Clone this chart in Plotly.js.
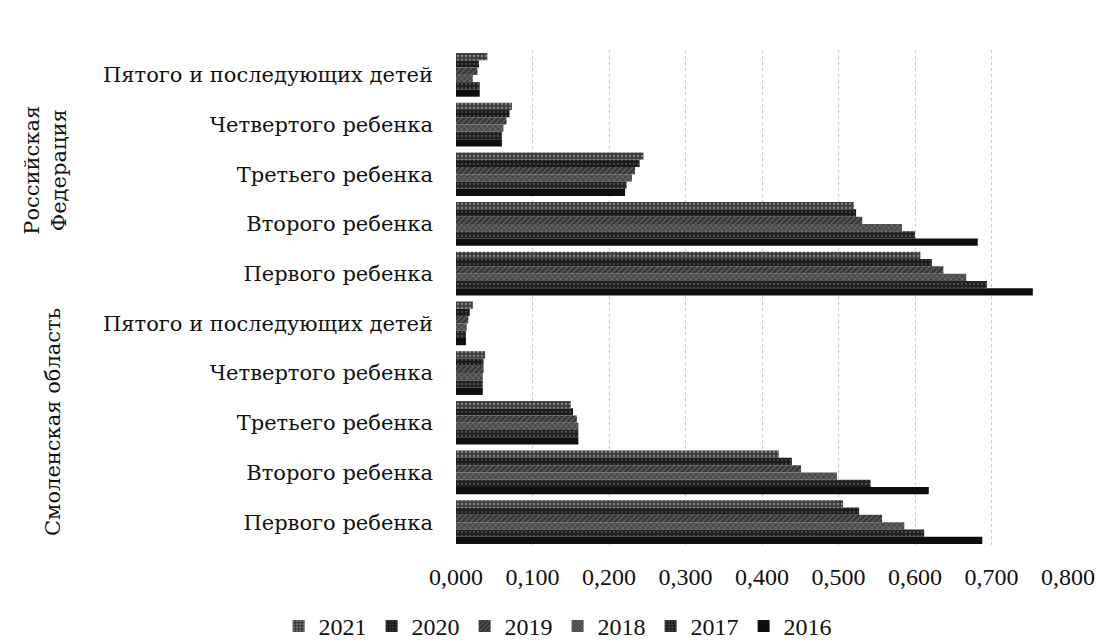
<!DOCTYPE html>
<html>
<head>
<meta charset="utf-8">
<script src="https://cdn.plot.ly/plotly-3.0.1.min.js"></script>
<style>html,body{margin:0;padding:0;background:#fff;}#chart{width:1113px;height:643px;}</style>
</head>
<body>
<div id="chart"></div>
<script>
// Categories, top to bottom
const regions = ["Российская Федерация", "Смоленская область"];
const childLabels = ["Пятого и последующих детей", "Четвертого ребенка", "Третьего ребенка", "Второго ребенка", "Первого ребенка"];
const years = ["2021", "2020", "2019", "2018", "2017", "2016"];

// Values per year, ordered: RF (5th, 4th, 3rd, 2nd, 1st), then Smolensk (5th, 4th, 3rd, 2nd, 1st)
const v2021 = [0.041, 0.073, 0.245, 0.520, 0.607,   0.022, 0.038, 0.150, 0.422, 0.506];
const v2020 = [0.030, 0.070, 0.240, 0.523, 0.622,   0.018, 0.036, 0.153, 0.439, 0.527];
const v2019 = [0.028, 0.066, 0.234, 0.531, 0.637,   0.016, 0.036, 0.158, 0.451, 0.557];
const v2018 = [0.022, 0.062, 0.230, 0.583, 0.667,   0.014, 0.035, 0.160, 0.498, 0.586];
const v2017 = [0.031, 0.060, 0.223, 0.600, 0.694,   0.013, 0.035, 0.160, 0.542, 0.612];
const v2016 = [0.031, 0.060, 0.221, 0.682, 0.754,   0.013, 0.035, 0.160, 0.618, 0.688];
const seriesValues = [v2021, v2020, v2019, v2018, v2017, v2016];

const xTickVals = [0, 0.1, 0.2, 0.3, 0.4, 0.5, 0.6, 0.7, 0.8];
const xTickText = ["0,000", "0,100", "0,200", "0,300", "0,400", "0,500", "0,600", "0,700", "0,800"];

const styles = [
  {color: "#3e3e3e", shape: ".", fg: "#c8c8c8"},
  {color: "#1a1a1a", shape: ".", fg: "#6a6a6a"},
  {color: "#363636", shape: "/", fg: "#a8a8a8"},
  {color: "#4a4a4a", shape: "x", fg: "#bcbcbc"},
  {color: "#202020", shape: ".", fg: "#7a7a7a"},
  {color: "#0e0e0e", shape: "", fg: "#111"}
];

const catKeys = [];
const catText = [];
regions.forEach((r, ri) => childLabels.forEach(c => { catKeys.push(ri + "|" + c); catText.push(c); }));

const traces = years.map((y, i) => ({
  type: "bar",
  orientation: "h",
  name: y,
  x: seriesValues[i],
  y: catKeys,
  marker: {
    color: styles[i].color,
    line: {width: 0},
    pattern: styles[i].shape ? {shape: styles[i].shape, fgcolor: styles[i].fg, size: 4, solidity: 0.25, fillmode: "overlay"} : undefined
  },
  hoverinfo: "x+name"
}));

const serif = "Liberation Serif, Times New Roman, serif";
const wideSerif = "DejaVu Serif, serif";
const layout = {
  width: 1113, height: 643,
  margin: {l: 456, r: 45, t: 50, b: 96, autoexpand: false},
  paper_bgcolor: "#fff", plot_bgcolor: "#fff",
  barmode: "group",
  bargap: 0.12, bargroupgap: 0,
  showlegend: true,
  legend: {
    orientation: "h", xref: "container", x: 0.501, xanchor: "center",
    yref: "container", y: 0.026, yanchor: "middle",
    font: {family: serif, size: 24, color: "#111"},
    traceorder: "normal", itemwidth: 30, tracegroupgap: 0
  },
  xaxis: {
    range: [0, 0.8], tickvals: xTickVals, ticktext: xTickText,
    showgrid: true, gridcolor: "#c8c8c8", griddash: "dot", gridwidth: 1,
    zeroline: false, showline: false, ticks: "", automargin: false,
    tickfont: {family: serif, size: 24, color: "#111"},
    ticklabelstandoff: 13
  },
  yaxis: {
    type: "category", autorange: "reversed",
    categoryorder: "array", categoryarray: catKeys,
    tickvals: catKeys, ticktext: catText,
    showgrid: false, zeroline: false, showline: false, ticks: "", automargin: false,
    tickfont: {family: wideSerif, size: 21, color: "#111"},
    ticklabelstandoff: 22
  },
  annotations: [
    {text: "Российская<br>Федерация", xref: "paper", yref: "paper", x: -0.67, y: 0.759, xanchor: "center", yanchor: "middle", textangle: -90, showarrow: false, font: {family: wideSerif, size: 21, color: "#111"}},
    {text: "Смоленская область", xref: "paper", yref: "paper", x: -0.6585, y: 0.2515, xanchor: "center", yanchor: "middle", textangle: -90, showarrow: false, font: {family: wideSerif, size: 21, color: "#111"}}
  ]
};

Plotly.newPlot("chart", traces, layout, {displayModeBar: false, staticPlot: true});
</script>
</body>
</html>
